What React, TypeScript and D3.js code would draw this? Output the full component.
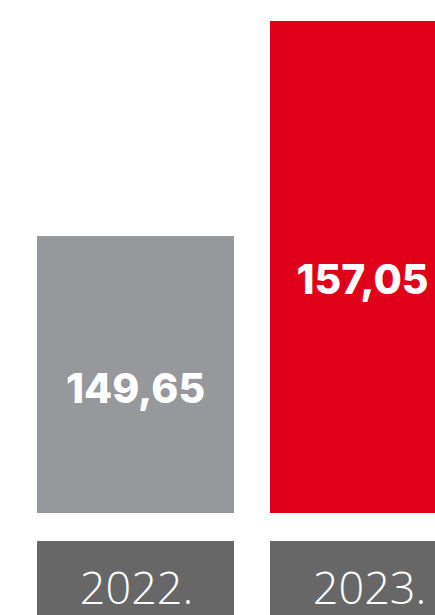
import React from "react";
import * as d3 from "d3";

const categories = ["2022.", "2023."];
const values = [149.65, 157.05];
const valueLabels = ["149,65", "157,05"];

const W = 435;
const H = 615;
const barColors = ["#97989c", "#e0001a"];
const labelPos = [0.55, 0.525];
const labelDx = [0, -6];

export default function App() {
  const x = d3.scaleBand<string>().domain(categories).range([37, 467]).paddingInner(36 / 233).paddingOuter(0);
  const y = d3.scaleLinear().domain([140.12, 157.05]).range([513, 21]);
  const bw = x.bandwidth();
  return (
    <svg width={W} height={H} style={{ position: "absolute", left: 0, top: 0, display: "block" }}>
      <rect width={W} height={H} fill="#ffffff" />
      {categories.map((c, i) => {
        const x0 = x(c) as number;
        const top = y(values[i]);
        const bottom = y(140.12);
        const h = bottom - top;
        const cx = x0 + bw / 2;
        const ly = top + h * labelPos[i];
        return (
          <g key={c}>
            <rect x={x0} y={top} width={bw} height={h} fill={barColors[i]} />
            <text
              x={cx + labelDx[i]}
              y={ly + 15}
              textAnchor="middle"
              fill="#ffffff"
              fontFamily="Inter, 'Open Sans', 'DejaVu Sans', sans-serif"
              fontWeight={800}
              fontSize={41}
            >
              {valueLabels[i]}
            </text>
            <rect x={x0} y={541} width={bw} height={H - 541} fill="#676767" />
            <text
              x={cx + 1}
              y={604}
              textAnchor="middle"
              fill="#ffffff"
              fontFamily="'Open Sans', 'DejaVu Sans', sans-serif"
              fontWeight={300}
              fontSize={45}
            >
              {c}
            </text>
          </g>
        );
      })}
    </svg>
  );
}
